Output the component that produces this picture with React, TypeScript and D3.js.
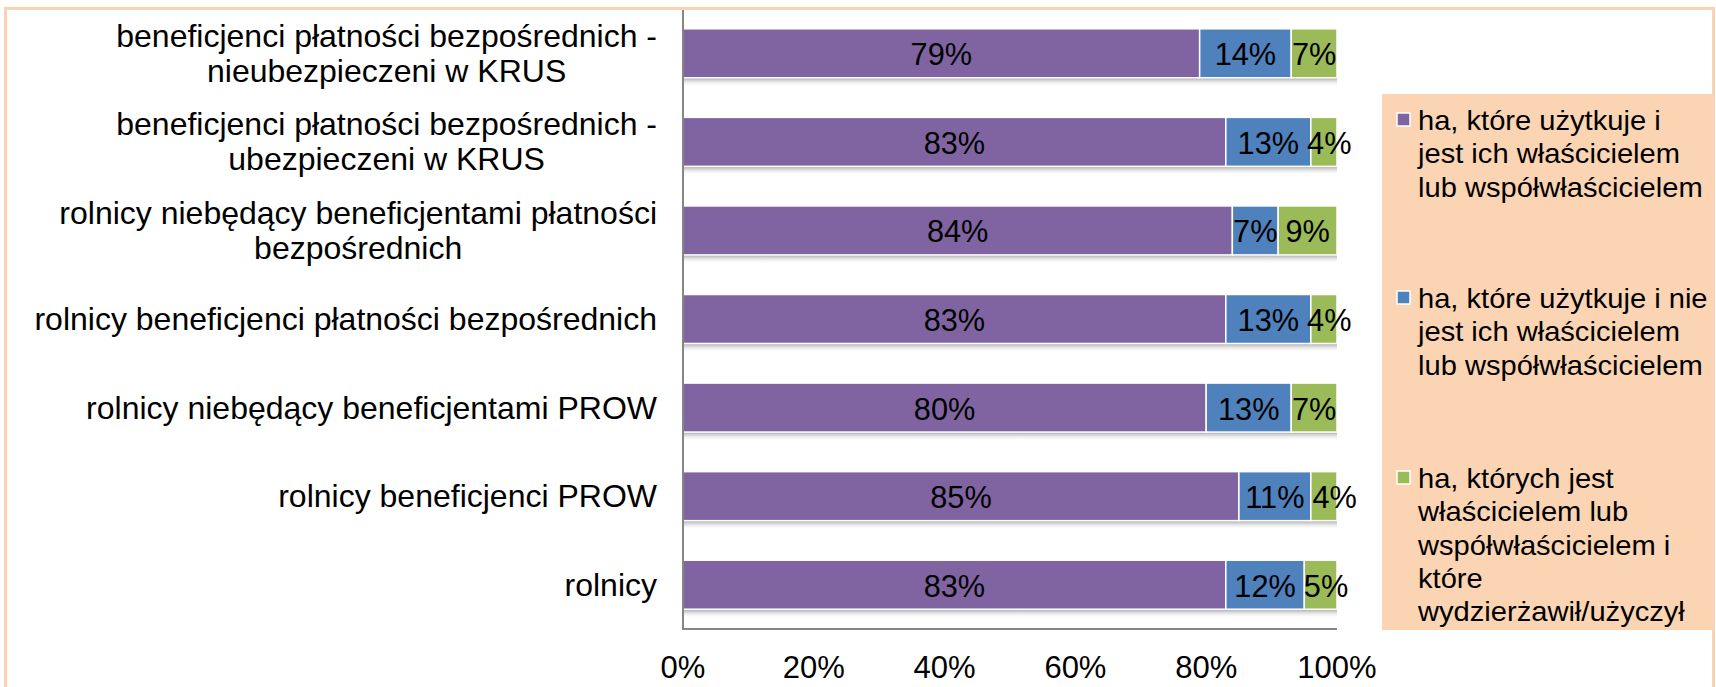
import React from "react";
import * as d3 from "d3";

const categories = [
  "beneficjenci płatności bezpośrednich -\nnieubezpieczeni w KRUS",
  "beneficjenci płatności bezpośrednich -\nubezpieczeni w KRUS",
  "rolnicy niebędący beneficjentami płatności\nbezpośrednich",
  "rolnicy beneficjenci płatności bezpośrednich",
  "rolnicy niebędący beneficjentami PROW",
  "rolnicy beneficjenci PROW",
  "rolnicy",
];

const ownedUsed = [79, 83, 84, 83, 80, 85, 83];
const usedNotOwned = [14, 13, 7, 13, 13, 11, 12];
const ownedLeased = [7, 4, 9, 4, 7, 4, 5];

const seriesNames = [
  "ha, które użytkuje i\njest ich właścicielem\nlub współwłaścicielem",
  "ha, które użytkuje i nie\njest ich właścicielem\nlub współwłaścicielem",
  "ha, których jest\nwłaścicielem lub\nwspółwłaścicielem i\nktóre\nwydzierżawił/użyczył",
];
const seriesColors = ["#8064A2", "#4F81BD", "#9BBB59"];

const xTicks = [0, 0.2, 0.4, 0.6, 0.8, 1];

const FONT = "'Liberation Sans', Arial, sans-serif";

let ctx: CanvasRenderingContext2D | null = null;
function measure(text: string, size: number, sx: number) {
  if (!ctx) ctx = document.createElement("canvas").getContext("2d");
  if (!ctx) return text.length * size * 0.5 * sx;
  ctx.font = `${size}px ${FONT}`;
  return ctx.measureText(text).width * sx;
}

function SText({ x, y, size, sx = 1, anchor, children, fill = "#000" }: any) {
  return (
    <g transform={`translate(${x},${y}) scale(${sx},1)`}>
      <text x={0} y={0} fontSize={size} fontFamily={FONT} textAnchor={anchor} fill={fill}>
        {children}
      </text>
    </g>
  );
}

export default function App() {
  const W = 1716, H = 687;
  const x = d3.scaleLinear().domain([0, 1]).range([683, 1337]);
  const y = d3
    .scaleBand<number>()
    .domain(categories.map((_, i) => i))
    .range([9, 629])
    .paddingInner(0.447)
    .paddingOuter(0.2235);

  const valSize = 32;
  const valSx = 0.96;

  const data = categories.map((c, i) => {
    const vals = [ownedUsed[i], usedNotOwned[i], ownedLeased[i]];
    const total = d3.sum(vals);
    let acc = 0;
    const segs = vals.map((v, k) => {
      const x0 = acc / total;
      const x1 = (acc + v) / total;
      acc += v;
      const label = `${v}%`;
      const w = measure(label, valSize, valSx);
      return { k, v, x0, x1, label, w, cx: (x(x0) + x(x1)) / 2 };
    });
    // keep neighbouring labels from colliding: push a label right if needed
    for (let k = 1; k < segs.length; k++) {
      const prevRight = segs[k - 1].cx + segs[k - 1].w / 2;
      const minCx = prevRight + 8 + segs[k].w / 2;
      if (segs[k].cx < minCx) segs[k].cx = minCx;
    }
    return { c, i, segs };
  });

  const labelRight = 657;
  const catSize = 32;
  const catSx = 1.0;
  const legSize = 28;
  const legSx = 1.04;

  return (
    <svg width={W} height={H} style={{ position: "absolute", left: 0, top: 0, background: "#fff" }}>
      <defs>
        <linearGradient id="shadow" x1="0" y1="0" x2="0" y2="1">
          <stop offset="0" stopColor="#8a8a8a" stopOpacity="0.75" />
          <stop offset="1" stopColor="#ffffff" stopOpacity="0" />
        </linearGradient>
      </defs>
      <rect x={0} y={0} width={W} height={H} fill="#fff" />
      {/* outer frame */}
      <rect x={5.5} y={8.5} width={1708} height={700} fill="none" stroke="#FBD3B3" strokeWidth={3} />
      {/* legend box */}
      <rect x={1382} y={94} width={331} height={536} fill="#FBD4B4" />

      {/* bars */}
      {data.map((d) => {
        const by = y(d.i)!;
        const bh = y.bandwidth();
        return (
          <g key={d.i}>
            <rect x={x(0)} y={by + bh} width={x(1) - x(0)} height={9} fill="url(#shadow)" />
            {d.segs.map((s) => (
              <rect
                key={s.k}
                x={x(s.x0)}
                y={by}
                width={x(s.x1) - x(s.x0)}
                height={bh}
                fill={seriesColors[s.k]}
                stroke="#fff"
                strokeWidth={1.5}
              />
            ))}
            {d.segs.map((s) => (
              <SText key={"t" + s.k} x={s.cx} y={by + bh / 2 + 12} size={valSize} sx={valSx} anchor="middle">
                {s.label}
              </SText>
            ))}
          </g>
        );
      })}

      {/* axes */}
      <line x1={683} x2={683} y1={10} y2={629} stroke="#868686" strokeWidth={2} />
      <line x1={682} x2={x(1)} y1={629} y2={629} stroke="#868686" strokeWidth={2} />
      {xTicks.map((t) => (
        <SText key={t} x={x(t)} y={678} size={31} anchor="middle">
          {d3.format(".0%")(t)}
        </SText>
      ))}

      {/* category labels */}
      {data.map((d) => {
        const lines = d.c.split("\n");
        const cy = y(d.i)! + y.bandwidth() / 2;
        const maxW = d3.max(lines, (l) => measure(l, catSize, catSx)) || 0;
        const cx = labelRight - maxW / 2;
        const lh = 35;
        const first = cy + 11 - ((lines.length - 1) * lh) / 2;
        return (
          <g key={"c" + d.i}>
            {lines.map((l, j) => (
              <SText
                key={j}
                x={lines.length > 1 ? cx : labelRight}
                y={first + j * lh}
                size={catSize}
                sx={catSx}
                anchor={lines.length > 1 ? "middle" : "end"}
              >
                {l}
              </SText>
            ))}
          </g>
        );
      })}

      {/* legend */}
      {seriesNames.map((n, k) => {
        const base = [130, 308, 488][k];
        const lines = n.split("\n");
        return (
          <g key={"l" + k}>
            <rect x={1397} y={base - 17} width={13} height={13} fill={seriesColors[k]} stroke="#fff" strokeWidth={1.5} />
            {lines.map((l, j) => (
              <SText key={j} x={1418} y={base + j * 33.3} size={legSize} sx={legSx} anchor="start">
                {l}
              </SText>
            ))}
          </g>
        );
      })}
    </svg>
  );
}
